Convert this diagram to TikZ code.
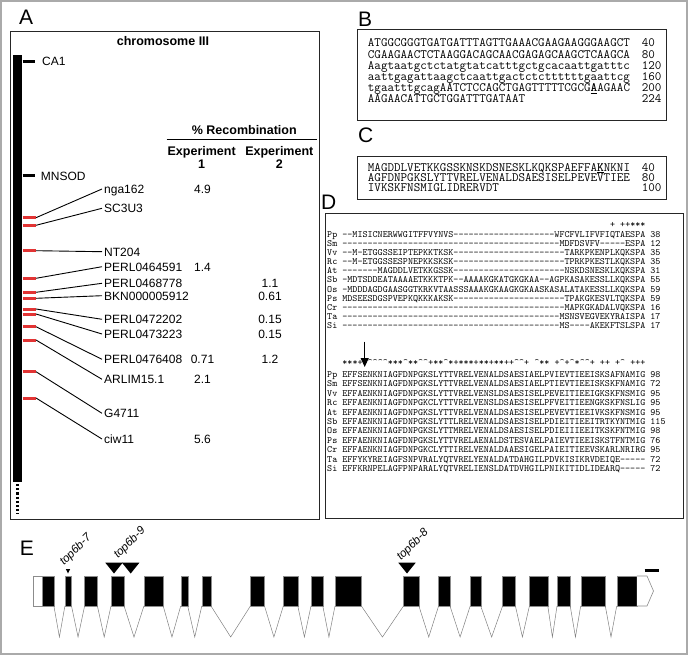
\documentclass[tikz,border=0pt]{standalone}
\usepackage{fontspec}
\setmainfont{Liberation Sans}
\usetikzlibrary{arrows.meta}
\definecolor{redmark}{RGB}{226,52,52}
\definecolor{framegray}{RGB}{170,170,170}
\newcommand\crt{\textasciicircum}
\newcommand\dT{----------}
\begin{document}
\begin{tikzpicture}[x=1pt,y=-1pt,
  panel/.style={draw=black!85, line width=1pt},
  plabel/.style={font=\fontsize{21}{24}\selectfont, anchor=base west, inner sep=0pt},
  mk/.style={font=\fontsize{12}{14}\selectfont, inner xsep=2pt, inner ysep=0pt, text height=8.6pt, text depth=0pt, anchor=west},
  val/.style={font=\fontsize{12}{14}\selectfont, inner sep=0pt, text height=8.6pt, text depth=0pt},
  hd/.style={font=\bfseries\fontsize{12.5}{14}\selectfont, inner sep=0pt, text height=9pt, text depth=0pt},
  seqB/.style={font=\ttfamily\fontsize{12.72}{14}\selectfont, inner sep=0pt, anchor=west, text height=7.8pt, text depth=0pt},
  seqD/.style={font=\ttfamily\fontsize{9.62}{11}\selectfont, inner sep=0pt, anchor=west, text height=5.9pt, text depth=0pt},
  conn/.style={line width=0.9pt},
  redtick/.style={redmark, line width=3pt},
  blacktick/.style={black, line width=3pt},
  exon/.style={fill=black, draw=black!45, line width=0.4pt},
  utr/.style={fill=white, draw=black!45, line width=0.6pt},
  intron/.style={draw=black!50, line width=0.5pt},
  mut/.style={fill=black},
  allele/.style={font=\itshape\fontsize{11.5}{13}\selectfont, inner sep=0pt, anchor=base west, rotate=45}
]
\useasboundingbox (0,0) rectangle (688,655);
\draw[framegray, line width=1.5pt] (1,1) rectangle (687,654);

% ---------------- Panel A ----------------
\node[plabel] (labA) at (19,25) {A};
\draw[panel] (10.7,31.7) rectangle (319,519);
\node[hd] (chr) at (163,41) {chromosome III};
\fill (13.3,55) rectangle (21.7,482);
\draw[line width=3pt, dash pattern=on 2.2pt off 2pt] (17,484) -- (17,514);

\draw[blacktick] (22.7,61.7) -- (35,61.7);
\node[mk, inner xsep=0pt] (ca1) at (42,61.7) {CA1};
\draw[blacktick] (22.7,176) -- (35,176);
\node[mk, inner xsep=0pt] (mnsod) at (40.7,176) {MNSOD};

\node[hd] (rec) at (244.3,130) {\% Recombination};
\draw[line width=1pt] (166.7,139.3) -- (317.3,139.3);
\node[hd] (ex1) at (201.7,151) {Experiment};
\node[hd] (ex1n) at (201.7,164.3) {1};
\node[hd] (ex2) at (279.3,151) {Experiment};
\node[hd] (ex2n) at (279.3,164.3) {2};

\foreach \ty/\ly/\nm [count=\i] in {
  217.7/189/nga162, 225.3/208.3/SC3U3, 250.7/251.7/NT204,
  278.3/266.7/PERL0464591, 292.3/283.3/PERL0468778, 298.3/295.7/BKN000005912,
  309/319.3/PERL0472202, 314/334/PERL0473223, 326.7/359.3/PERL0476408,
  340/379.3/ARLIM15.1, 371.7/413.3/G4711, 398/439/ciw11}{
  \draw[redtick] (22.7,\ty) -- (36,\ty);
  \coordinate (t\i) at (36,\ty);
  \node[mk] (m\i) at (102,\ly) {\nm};
  \draw[conn] (t\i) -- (m\i.west);
}
\node[val] (v1a) at (202.5,189) {4.9};
\node[val] (v4a) at (202.5,266.7) {1.4};
\node[val] (v5b) at (270,283.3) {1.1};
\node[val] (v6b) at (270,295.7) {0.61};
\node[val] (v7b) at (270,319.3) {0.15};
\node[val] (v8b) at (270,334) {0.15};
\node[val] (v9a) at (202.5,359.3) {0.71};
\node[val] (v9b) at (270,359.3) {1.2};
\node[val] (v10a) at (202.5,379.3) {2.1};
\node[val] (v12a) at (202.5,439) {5.6};

% ---------------- Panel B ----------------
\node[plabel] (labB) at (358,27) {B};
\draw[panel] (357.7,30) rectangle (666.7,120.7);
\foreach \s/\n [count=\i] in {
  ATGGCGGGTGATGATTTAGTTGAAACGAAGAAGGGAAGCT/40,
  CGAAGAACTCTAAGGACAGCAACGAGAGCAAGCTCAAGCA/80,
  Aagtaatgctctatgtatcatttgctgcacaattgatttc/120,
  aattgagattaagctcaattgactctcttttttgaattcg/160,
  {tgaatttgcagAATCTCCAGCTGAGTTTTTCGCG\underline{\textbf{A}}AGAAC}/200,
  AAGAACATTGCTGGATTTGATAAT/224}{
  \node[seqB] (b\i) at (367.7,43+11.2*\i-11.2) {\s};
  \node[seqB] (bn\i) at (641.6,43+11.2*\i-11.2) {\n};
}

% ---------------- Panel C ----------------
\node[plabel] (labC) at (358,143) {C};
\draw[panel] (357.7,156.7) rectangle (666.7,199.3);
\foreach \s/\n [count=\i] in {
  {MAGDDLVETKKGSSKNSKDSNESKLKQKSPAEFFA\underline{\textbf{K}}NKNI}/40,
  AGFDNPGKSLYTTVRELVENALDSAESISELPEVEVTIEE/80,
  IVKSKFNSMIGLIDRERVDT/100}{
  \node[seqB] (c\i) at (367.7,167.3+10.4*\i-10.4) {\s};
  \node[seqB] (cn\i) at (641.6,167.3+10.4*\i-10.4) {\n};
}

% ---------------- Panel D ----------------
\node[plabel] (labD) at (321,210) {D};
\draw[panel] (325,213.3) rectangle (683.3,518.3);
\node[seqD] (k1) at (609.9,225) {+ ++***};
\foreach \txt [count=\i] in {
  {Pp --MISICNERWWGITFFVYNVS\dT\dT WFCFVLIFVFIQTAESPA 38},
  {Sm \dT\dT\dT\dT---MDFDSVFV-----ESPA 12},
  {Vv --M-ETGGSSEIPTEPKKTKSK\dT\dT--TARKPKENPLKQKSPA 35},
  {Rc --M-ETGGSSESPNEPKKSKSK\dT\dT--TPRKPKESTLKQKSPA 35},
  {At -------MAGDDLVETKKGSSK\dT\dT--NSKDSNESKLKQKSPA 31},
  {Sb -MDTSDDEATAAAAETKKKTPK--AAAAKGKATGKGKAA--AGPKASAKESSLLKQKSPA 55},
  {Os -MDDDAGDGAASGGTKRKVTAASSSAAAKGKAAGKGKAASKASALATAKESSLLKQKSPA 59},
  {Ps MDSEESDGSPVEPKQKKKAKSK\dT\dT--TPAKGKESVLTQKSPA 59},
  {Cr \dT\dT\dT\dT----MAPKGKADALVQKSPA 16},
  {Ta \dT\dT\dT\dT---MSNSVEGVEKYRAISPA 17},
  {Si \dT\dT\dT\dT---MS----AKEKFTSLSPA 17}}{
  \node[seqD] (p\i) at (327,234.5+9.1*\i-9.1) {\txt};
}
\node[seqD] (k2) at (342.2,363) {***+\crt\crt\crt\crt\crt***\crt**\crt\crt+**\crt*+***+**+**++\crt\crt+ \crt** +\crt+\crt*\crt\crt+ ++ +\crt{} +++};
\coordinate (arS) at (364.7,341.5);
\coordinate (arE) at (364.7,367);
\draw[line width=1.1pt, -{Triangle[width=8pt,length=9pt]}] (arS) -- (arE);
\foreach \txt [count=\i] in {
  {Pp EFFSENKNIAGFDNPGKSLYTTVRELVENALDSAESIAELPVIEVTIEEISKSAFNAMIG 98},
  {Sm EFFSENKNIAGFDNPGKSLYTTVRELVENALDSAESIAELPTIEVTIEEISKSKFNAMIG 72},
  {Vv EFFAENKNIAGFDNPGKSLYTTVRELVENSLDSAESISELPEVEITIEEIGKSKFNSMIG 95},
  {Rc EFFAENKNIAGFDNPGKCLYTTVRELVENSLDSAESISELPFVEITIEENGKSKFNSLIG 95},
  {At EFFAENKNIAGFDNPGKSLYTTVRELVENALDSAESISELPEVEVTIEEIVKSKFNSMIG 95},
  {Sb EFFAENKNIAGFDNPGKSLYTTLRELVENALDSAESISELPDIEITIEEITRTKYNTMIG 115},
  {Os EFFAENKNIAGFDNPGKSLYTTMRELVENALDSAESISELPDIEIIIEEITKSKFNTMIG 98},
  {Ps EFFAENKNIAGFDNPGKSLYTTVRELAENALDSTESVAELPAIEVTIEEISKSTFNTMIG 76},
  {Cr EFFAENKNIAGFDNPGKCLYTTIRELVENALDAAESIGELPAIEITIEEVSKARLNRIRG 95},
  {Ta EFFYKYREIAGFSNPVRALYQTVRELYENALDATDAHGILPDVKISIKRVDEIQE----- 72},
  {Si EFFKRNPELAGFPNPARALYQTVRELIENSLDATDVHGILPNIKITIDLIDEARQ----- 72}}{
  \node[seqD] (q\i) at (327,374.5+9.4*\i-9.4) {\txt};
}

% ---------------- Panel E ----------------
\node[plabel] (labE) at (19.7,555) {E};
\draw[utr] (32.9,576) rectangle (42.5,606);
\foreach \a/\b in {42.5/53.9, 64.9/71.5, 84.6/97.4, 111/124.1, 143.9/163.2,
  180.7/187.7, 201.8/211, 250.4/264.5, 283.3/297.8, 311/322.8, 335/361.4,
  403.5/418.9, 438.6/450, 470.2/480.7, 502.6/515.4, 529.4/547.8, 557/570.2,
  580.7/605.3, 616.7/636.8}{
  \draw[exon] (\a,576) rectangle (\b,606);
}
\draw[utr] (636.8,576) -- (647,576) -- (653.5,591) -- (647,606) -- (636.8,606);
\foreach \a/\b in {53.9/64.9, 71.5/84.6, 97.4/111, 124.1/143.9, 163.2/180.7,
  187.7/201.8, 211/250.4, 264.5/283.3, 297.8/311, 322.8/335, 361.4/403.5,
  418.9/438.6, 450/470.2, 480.7/502.6, 515.4/529.4, 547.8/557, 570.2/580.7,
  605.3/616.7}{
  \draw[intron] (\a,606) -- ({(\a+\b)/2},637) -- (\b,606);
}
\fill[mut] (65.8,569) -- (70.2,569) -- (68,573.5) -- cycle;
\fill[mut] (105.3,562.7) -- (122.7,562.7) -- (114,573.5) -- cycle;
\fill[mut] (122,562.7) -- (139.4,562.7) -- (130.7,573.5) -- cycle;
\fill[mut] (398.3,562.7) -- (415.7,562.7) -- (407,573.5) -- cycle;
\draw[line width=2.5pt] (644.7,570.7) -- (658.8,570.7);
\node[allele] (a7) at (64,566) {top6b-7};
\node[allele] (a9) at (118,559) {top6b-9};
\node[allele] (a8) at (401,561) {top6b-8};
\end{tikzpicture}
\end{document}
